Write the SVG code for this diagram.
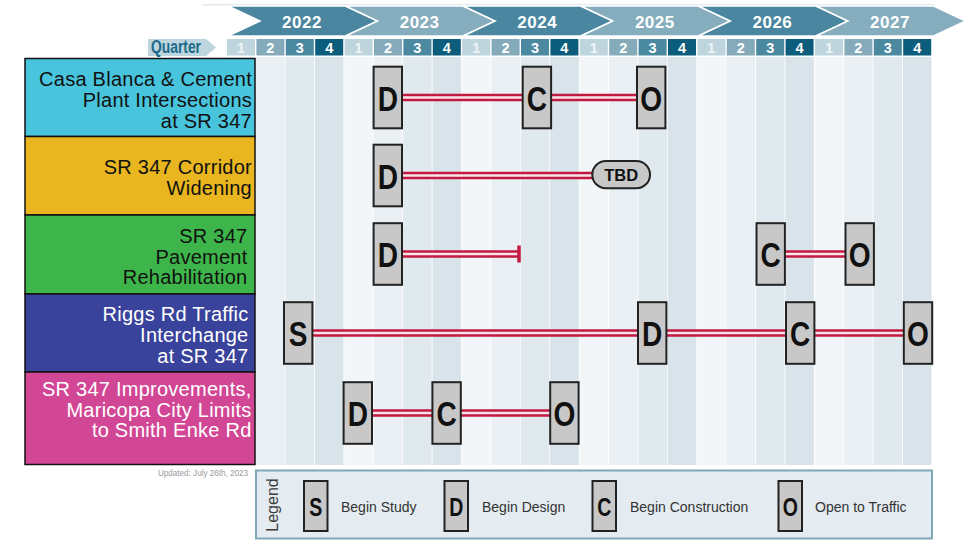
<svg xmlns="http://www.w3.org/2000/svg" width="971" height="540" viewBox="0 0 971 540">
<style>
.yr{font-family:"Liberation Sans",Arial,sans-serif;font-weight:bold;font-size:17px;fill:#fff;text-anchor:middle;letter-spacing:0.5px}
.qd{font-family:"Liberation Sans",Arial,sans-serif;font-weight:bold;font-size:14.5px;fill:#fff;text-anchor:middle}
.lbl{font-family:"Liberation Sans",Arial,sans-serif;font-size:20px;text-anchor:end;letter-spacing:0.25px}
.mk{fill:#c8c8c8;stroke:#222;stroke-width:2}
.mt{font-family:"Liberation Sans",Arial,sans-serif;font-weight:bold;font-size:36px;fill:#111;text-anchor:middle}
.lmt{font-family:"Liberation Sans",Arial,sans-serif;font-weight:bold;font-size:26px;fill:#111;text-anchor:middle}
.lt{font-family:"Liberation Sans",Arial,sans-serif;font-size:14px;fill:#333}
.red{stroke:#c31840;stroke-width:7.5;fill:none}
.wht{stroke:#f7e4e9;stroke-width:2.3;fill:none}
.c1{fill:#f3f6f8}.c2{fill:#e9eff3}.c3{fill:#e0e9ee}.c4{fill:#d8e4ea}
.q1{fill:#bfd5dd}.q2{fill:#85abbb}.q3{fill:#4a89a0}.q4{fill:#0c5d7c}
.yd{fill:#4a86a0;stroke:#fff;stroke-width:1.5}.yl{fill:#86adbe;stroke:#fff;stroke-width:1.5}
</style>
<rect width="971" height="540" fill="#fff"/>
<g id="grid">
<rect class="c1" x="226.7" y="57" width="28.6" height="408"/><rect class="c2" x="256.1" y="57" width="28.6" height="408"/><rect class="c3" x="285.5" y="57" width="28.6" height="408"/><rect class="c4" x="314.9" y="57" width="28.6" height="408"/>
<rect class="c1" x="344.3" y="57" width="28.6" height="408"/><rect class="c2" x="373.7" y="57" width="28.6" height="408"/><rect class="c3" x="403.1" y="57" width="28.6" height="408"/><rect class="c4" x="432.5" y="57" width="28.6" height="408"/>
<rect class="c1" x="461.9" y="57" width="28.6" height="408"/><rect class="c2" x="491.3" y="57" width="28.6" height="408"/><rect class="c3" x="520.7" y="57" width="28.6" height="408"/><rect class="c4" x="550.1" y="57" width="28.6" height="408"/>
<rect class="c1" x="579.5" y="57" width="28.6" height="408"/><rect class="c2" x="608.9" y="57" width="28.6" height="408"/><rect class="c3" x="638.3" y="57" width="28.6" height="408"/><rect class="c4" x="667.7" y="57" width="28.6" height="408"/>
<rect class="c1" x="697.1" y="57" width="28.6" height="408"/><rect class="c2" x="726.5" y="57" width="28.6" height="408"/><rect class="c3" x="755.9" y="57" width="28.6" height="408"/><rect class="c4" x="785.3" y="57" width="28.6" height="408"/>
<rect class="c1" x="814.7" y="57" width="28.6" height="408"/><rect class="c2" x="844.1" y="57" width="28.6" height="408"/><rect class="c3" x="873.5" y="57" width="28.6" height="408"/><rect class="c4" x="902.9" y="57" width="28.6" height="408"/>
</g>
<g id="header">
<line x1="203" y1="4.8" x2="934" y2="4.8" stroke="#dfe8ec" stroke-width="1.5"/>
<polygon class="yd" points="228,6 345.6,6 377.6,21 345.6,36 228,36 260,21"/>
<polygon class="yl" points="345.6,6 463.2,6 495.2,21 463.2,36 345.6,36 377.6,21"/>
<polygon class="yd" points="463.2,6 580.8,6 612.8,21 580.8,36 463.2,36 495.2,21"/>
<polygon class="yl" points="580.8,6 698.4,6 730.4,21 698.4,36 580.8,36 612.8,21"/>
<polygon class="yd" points="698.4,6 816,6 848,21 816,36 698.4,36 730.4,21"/>
<polygon class="yl" points="816,6 933.6,6 965.6,21 933.6,36 816,36 848,21"/>
<text class="yr" x="302" y="28">2022</text>
<text class="yr" x="419.6" y="28">2023</text>
<text class="yr" x="537.2" y="28">2024</text>
<text class="yr" x="654.8" y="28">2025</text>
<text class="yr" x="772.4" y="28">2026</text>
<text class="yr" x="890" y="28">2027</text>
<polygon points="148,39 206,39 216,47.5 206,56 148,56" fill="#bcd5de"/>
<text x="151" y="53" textLength="50" lengthAdjust="spacingAndGlyphs" style="font-family:'Liberation Sans',Arial,sans-serif;font-weight:bold;font-size:18px;fill:#1d6a88">Quarter</text>
</g>
<g id="quarters">
<rect class="q1" x="227" y="39" width="28" height="16.5"/><rect class="q2" x="256.4" y="39" width="28" height="16.5"/><rect class="q3" x="285.8" y="39" width="28" height="16.5"/><rect class="q4" x="315.2" y="39" width="28" height="16.5"/>
<rect class="q1" x="344.6" y="39" width="28" height="16.5"/><rect class="q2" x="374" y="39" width="28" height="16.5"/><rect class="q3" x="403.4" y="39" width="28" height="16.5"/><rect class="q4" x="432.8" y="39" width="28" height="16.5"/>
<rect class="q1" x="462.2" y="39" width="28" height="16.5"/><rect class="q2" x="491.6" y="39" width="28" height="16.5"/><rect class="q3" x="521" y="39" width="28" height="16.5"/><rect class="q4" x="550.4" y="39" width="28" height="16.5"/>
<rect class="q1" x="579.8" y="39" width="28" height="16.5"/><rect class="q2" x="609.2" y="39" width="28" height="16.5"/><rect class="q3" x="638.6" y="39" width="28" height="16.5"/><rect class="q4" x="668" y="39" width="28" height="16.5"/>
<rect class="q1" x="697.4" y="39" width="28" height="16.5"/><rect class="q2" x="726.8" y="39" width="28" height="16.5"/><rect class="q3" x="756.2" y="39" width="28" height="16.5"/><rect class="q4" x="785.6" y="39" width="28" height="16.5"/>
<rect class="q1" x="815" y="39" width="28" height="16.5"/><rect class="q2" x="844.4" y="39" width="28" height="16.5"/><rect class="q3" x="873.8" y="39" width="28" height="16.5"/><rect class="q4" x="903.2" y="39" width="28" height="16.5"/>
<text class="qd" y="52.5"><tspan x="241" fill="#eef4f6">1</tspan><tspan x="270.4">2</tspan><tspan x="299.8">3</tspan><tspan x="329.2">4</tspan><tspan x="358.6" fill="#eef4f6">1</tspan><tspan x="388">2</tspan><tspan x="417.4">3</tspan><tspan x="446.8">4</tspan><tspan x="476.2" fill="#eef4f6">1</tspan><tspan x="505.6">2</tspan><tspan x="535">3</tspan><tspan x="564.4">4</tspan><tspan x="593.8" fill="#eef4f6">1</tspan><tspan x="623.2">2</tspan><tspan x="652.6">3</tspan><tspan x="682">4</tspan><tspan x="711.4" fill="#eef4f6">1</tspan><tspan x="740.8">2</tspan><tspan x="770.2">3</tspan><tspan x="799.6">4</tspan><tspan x="829" fill="#eef4f6">1</tspan><tspan x="858.4">2</tspan><tspan x="887.8">3</tspan><tspan x="917.2">4</tspan></text>
</g>
<g id="row-casa-blanca">
<rect x="25" y="58.5" width="230" height="78" fill="#48c4dc" stroke="#111" stroke-width="1.5"/>
<text class="lbl" fill="#111"><tspan x="252" y="85.7">Casa Blanca &amp; Cement</tspan><tspan x="252" y="106.7">Plant Intersections</tspan><tspan x="252" y="127.7">at SR 347</tspan></text>
</g>
<g id="row-corridor">
<rect x="25" y="136.5" width="230" height="78.5" fill="#e9b620" stroke="#111" stroke-width="1.5"/>
<text class="lbl" fill="#111"><tspan x="252" y="174.3">SR 347 Corridor</tspan><tspan x="252" y="195">Widening</tspan></text>
</g>
<g id="row-pavement">
<rect x="25" y="215" width="230" height="79" fill="#3eb54a" stroke="#111" stroke-width="1.5"/>
<text class="lbl" fill="#111"><tspan x="247.5" y="242.7">SR 347</tspan><tspan x="247.5" y="264">Pavement</tspan><tspan x="247.5" y="284">Rehabilitation</tspan></text>
</g>
<g id="row-riggs">
<rect x="25" y="294" width="230" height="78" fill="#39439b" stroke="#111" stroke-width="1.5"/>
<text class="lbl" fill="#fff"><tspan x="248.5" y="320.7">Riggs Rd Traffic</tspan><tspan x="248.5" y="341.7">Interchange</tspan><tspan x="248.5" y="362.7">at SR 347</tspan></text>
</g>
<g id="row-improvements">
<rect x="25" y="372" width="230" height="92.5" fill="#d24795" stroke="#111" stroke-width="1.5"/>
<text class="lbl" fill="#fff"><tspan x="251.5" y="396">SR 347 Improvements,</tspan><tspan x="251.5" y="416.7">Maricopa City Limits</tspan><tspan x="251.5" y="437.3">to Smith Enke Rd</tspan></text>
</g>
<g id="connectors">
<path class="red" d="M402 97.5H522.7M551.3 97.5H636.7"/>
<path class="wht" d="M402 97.5H522.7M551.3 97.5H636.7"/>
<path class="red" d="M402 175.5H594"/>
<path class="wht" d="M402 175.5H594"/>
<path class="red" d="M402 254H518M784.5 254H845.7"/>
<path class="wht" d="M402 254H518M784.5 254H845.7"/>
<line x1="519" y1="245.5" x2="519" y2="262.5" stroke="#c31840" stroke-width="3.5"/>
<path class="red" d="M312 333H637.7M666.5 333H786M814.5 333H904"/>
<path class="wht" d="M312 333H637.7M666.5 333H786M814.5 333H904"/>
<path class="red" d="M372 413H432M461 413H550"/>
<path class="wht" d="M372 413H432M461 413H550"/>
</g>
<g id="markers">
<g id="m-r1-d"><rect class="mk" x="373.6" y="66.7" width="28.4" height="61.6"/><text class="mt" transform="translate(387.8 110.5) scale(0.78 1)">D</text></g>
<g id="m-r1-c"><rect class="mk" x="522.7" y="66.7" width="28.4" height="61.6"/><text class="mt" transform="translate(536.9 110.5) scale(0.78 1)">C</text></g>
<g id="m-r1-o"><rect class="mk" x="637" y="66.7" width="28.4" height="61.6"/><text class="mt" transform="translate(651.2 110.5) scale(0.78 1)">O</text></g>
<g id="m-r2-d"><rect class="mk" x="373.6" y="144.7" width="28.4" height="61.6"/><text class="mt" transform="translate(387.8 188.5) scale(0.78 1)">D</text></g>
<g id="m-r2-tbd"><rect class="mk" x="592.3" y="161" width="57.7" height="27.3" rx="13.6"/><text x="621.2" y="181" text-anchor="middle" style="font-family:'Liberation Sans',Arial,sans-serif;font-weight:bold;font-size:16.5px;fill:#111">TBD</text></g>
<g id="m-r3-d"><rect class="mk" x="373.6" y="223.2" width="28.4" height="61.6"/><text class="mt" transform="translate(387.8 267) scale(0.78 1)">D</text></g>
<g id="m-r3-c"><rect class="mk" x="756.5" y="223.2" width="28.4" height="61.6"/><text class="mt" transform="translate(770.7 267) scale(0.78 1)">C</text></g>
<g id="m-r3-o"><rect class="mk" x="845.5" y="223.2" width="28.4" height="61.6"/><text class="mt" transform="translate(859.7 267) scale(0.78 1)">O</text></g>
<g id="m-r4-s"><rect class="mk" x="284" y="302.2" width="28.4" height="61.6"/><text class="mt" transform="translate(298.2 346) scale(0.78 1)">S</text></g>
<g id="m-r4-d"><rect class="mk" x="638" y="302.2" width="28.4" height="61.6"/><text class="mt" transform="translate(652.2 346) scale(0.78 1)">D</text></g>
<g id="m-r4-c"><rect class="mk" x="786" y="302.2" width="28.4" height="61.6"/><text class="mt" transform="translate(800.2 346) scale(0.78 1)">C</text></g>
<g id="m-r4-o"><rect class="mk" x="903.8" y="302.2" width="28.4" height="61.6"/><text class="mt" transform="translate(918 346) scale(0.78 1)">O</text></g>
<g id="m-r5-d"><rect class="mk" x="343.6" y="382.2" width="28.4" height="61.6"/><text class="mt" transform="translate(357.8 426) scale(0.78 1)">D</text></g>
<g id="m-r5-c"><rect class="mk" x="432.4" y="382.2" width="28.4" height="61.6"/><text class="mt" transform="translate(446.6 426) scale(0.78 1)">C</text></g>
<g id="m-r5-o"><rect class="mk" x="550.2" y="382.2" width="28.4" height="61.6"/><text class="mt" transform="translate(564.4 426) scale(0.78 1)">O</text></g>
</g>
<text x="248" y="476" text-anchor="end" textLength="90" lengthAdjust="spacingAndGlyphs" style="font-family:'Liberation Sans',Arial,sans-serif;font-size:8.5px;fill:#9a9a9a">Updated: July 26th, 2023</text>
<g id="legend">
<rect x="256" y="470.5" width="676" height="68" fill="#e4ecf1" stroke="#7fa8b8" stroke-width="2"/>
<text transform="translate(278 505) rotate(-90)" text-anchor="middle" style="font-family:'Liberation Sans',Arial,sans-serif;font-size:16px;fill:#3a3a3a">Legend</text>
<rect class="mk" x="304" y="481" width="23.5" height="50"/><text class="lmt" transform="translate(315.8 515.5) scale(0.75 1)">S</text>
<text class="lt" x="341" y="512">Begin Study</text>
<rect class="mk" x="444.5" y="481" width="23.5" height="50"/><text class="lmt" transform="translate(456.3 515.5) scale(0.75 1)">D</text>
<text class="lt" x="482" y="512">Begin Design</text>
<rect class="mk" x="592.5" y="481" width="23.5" height="50"/><text class="lmt" transform="translate(604.3 515.5) scale(0.75 1)">C</text>
<text class="lt" x="630" y="512">Begin Construction</text>
<rect class="mk" x="778.5" y="481" width="23.5" height="50"/><text class="lmt" transform="translate(790.3 515.5) scale(0.75 1)">O</text>
<text class="lt" x="815" y="512">Open to Traffic</text>
</g>
</svg>
